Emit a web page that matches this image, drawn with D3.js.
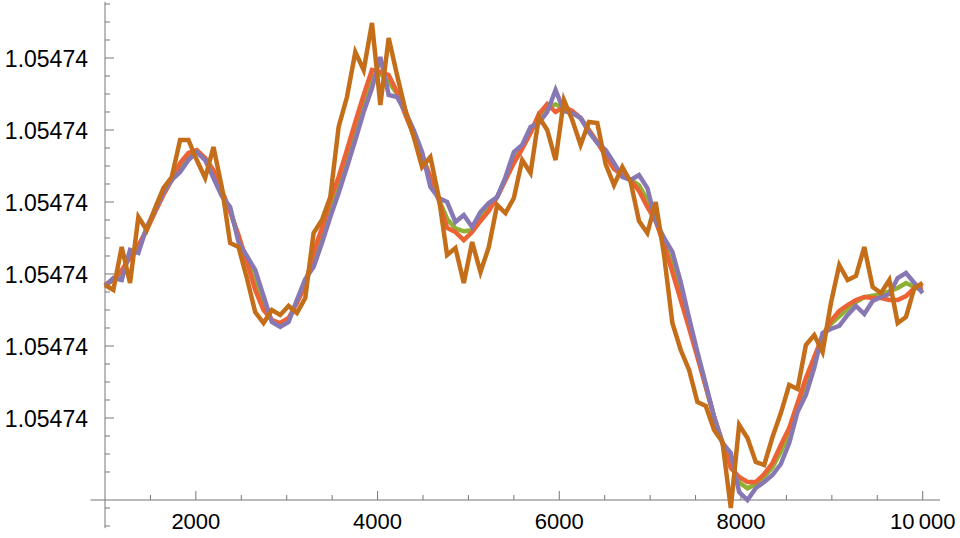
<!DOCTYPE html>
<html><head><meta charset="utf-8">
<script src="https://cdn.jsdelivr.net/npm/d3@7"></script>
<style>
html,body{margin:0;padding:0;background:#fff;}
svg text{font-family:"Liberation Sans",Arial,sans-serif;}
</style></head>
<body><svg id="chart" width="960" height="538"></svg>
<script>
// Sampling grid: 99 samples from 1000 to 10000
const xStart = 1000, xEnd = 10000, nSamples = 99;
const xValues = d3.range(nSamples).map(i => xStart + i * (xEnd - xStart) / (nSamples - 1));

// Series values: deviation from 1.05474, in units of one major y-tick step
const purpleSeries = [1.833,1.944,1.917,2.333,2.292,2.653,2.889,3.139,3.306,3.417,3.583,3.694,3.583,3.333,3.083,2.931,2.444,2.25,2.056,1.694,1.333,1.264,1.333,1.639,1.931,2.097,2.431,2.792,3.125,3.486,3.861,4.25,4.583,5.014,4.486,4.458,4.25,4.0,3.694,3.208,3.056,3.0,2.722,2.819,2.653,2.861,2.986,3.069,3.347,3.694,3.792,4.042,4.097,4.25,4.556,4.264,4.236,4.167,3.972,3.819,3.722,3.542,3.347,3.306,3.375,3.194,2.736,2.5,2.306,1.889,1.389,0.917,0.472,0.014,-0.347,-0.486,-1.028,-1.139,-0.972,-0.889,-0.792,-0.639,-0.347,0.083,0.319,0.694,1.181,1.236,1.278,1.431,1.556,1.444,1.625,1.681,1.722,1.944,2.014,1.875,1.736];
const redSeries = [1.847,1.917,2.056,2.222,2.403,2.611,2.861,3.097,3.306,3.542,3.681,3.722,3.611,3.444,3.167,2.861,2.542,2.167,1.778,1.5,1.361,1.319,1.389,1.597,1.847,2.306,2.639,3.028,3.347,3.722,4.111,4.486,4.833,4.806,4.764,4.528,4.208,3.931,3.653,3.347,3.028,2.639,2.583,2.472,2.583,2.736,2.875,3.069,3.306,3.542,3.736,3.958,4.222,4.361,4.25,4.319,4.264,4.167,4.0,3.833,3.639,3.458,3.375,3.306,3.153,2.931,2.736,2.403,2.028,1.639,1.25,0.847,0.431,0.014,-0.347,-0.694,-0.819,-0.889,-0.889,-0.778,-0.625,-0.375,-0.139,0.208,0.556,0.847,1.139,1.347,1.486,1.569,1.639,1.681,1.667,1.667,1.639,1.639,1.694,1.806,1.806];
const greenSeries = [1.842,1.926,2.007,2.261,2.364,2.626,2.871,3.112,3.306,3.498,3.647,3.712,3.601,3.405,3.138,2.886,2.508,2.196,1.875,1.568,1.351,1.300,1.369,1.612,1.876,2.233,2.566,2.945,3.269,3.639,4.024,4.403,4.746,4.78,4.667,4.504,4.223,3.955,3.667,3.298,3.038,2.765,2.632,2.593,2.607,2.780,2.914,3.069,3.320,3.595,3.756,3.987,4.178,4.322,4.357,4.300,4.254,4.167,3.990,3.828,3.668,3.487,3.365,3.306,3.231,3.023,2.736,2.437,2.125,1.727,1.299,0.872,0.445,0.014,-0.347,-0.621,-0.892,-0.977,-0.918,-0.817,-0.683,-0.467,-0.212,0.164,0.473,0.793,1.154,1.308,1.413,1.521,1.610,1.68,1.70,1.72,1.76,1.806,1.875,1.819,1.778];
const darkOrangeSeries = [1.847,1.778,2.375,1.875,2.792,2.611,2.917,3.194,3.347,3.861,3.861,3.583,3.333,3.764,3.208,2.431,2.375,1.944,1.472,1.319,1.5,1.431,1.556,1.458,1.667,2.569,2.75,3.069,4.042,4.458,5.083,4.833,5.486,4.347,5.278,4.764,4.278,3.903,3.486,3.625,3.069,2.264,2.361,1.875,2.444,2.028,2.375,2.958,2.847,3.056,3.583,3.403,4.181,4.0,3.583,4.417,4.139,3.792,4.111,4.097,3.528,3.236,3.486,3.278,2.736,2.569,3.0,2.264,1.319,0.944,0.667,0.222,0.167,-0.167,-0.333,-1.25,-0.097,-0.278,-0.611,-0.653,-0.264,0.069,0.458,0.403,1.014,1.153,0.917,1.597,2.125,1.917,1.972,2.375,1.819,1.736,1.917,1.319,1.403,1.806,1.875];

// Tick values and labels
const xMajorTicks = [2000, 4000, 6000, 8000, 10000];
const xMajorLabels = ["2000", "4000", "6000", "8000", "10\u2009000"];
const xMinorTicks = [1500, 2500, 3000, 3500, 4500, 5000, 5500, 6500, 7000, 7500, 8500, 9000, 9500];
const yMajorTicks = [0, 1, 2, 3, 4, 5];
const yMajorLabels = ["1.05474", "1.05474", "1.05474", "1.05474", "1.05474", "1.05474"];
const yMinorTicks = [-1.5, -1.25, -0.75, -0.5, -0.25, 0.25, 0.5, 0.75, 1.25, 1.5, 1.75, 2.25, 2.5, 2.75, 3.25, 3.5, 3.75, 4.25, 4.5, 4.75, 5.25, 5.5, 5.75];

const seriesList = [
  {name: "green", values: greenSeries, color: "#8FB032"},
  {name: "red", values: redSeries, color: "#EB6235"},
  {name: "purple", values: purpleSeries, color: "#8778B3"},
  {name: "darkorange", values: darkOrangeSeries, color: "#C56E1A"}
];

const svg = d3.select("#chart");
const x = d3.scaleLinear().domain([1000, 10000]).range([105, 922.7]);
const y = d3.scaleLinear().domain([-1.1389, 5.75]).range([500, 4]);

const axisColor = "#777";
const g = svg.append("g");

// x axis line
g.append("line").attr("x1", x(840)).attr("x2", x(10190)).attr("y1", y(-1.1389)).attr("y2", y(-1.1389))
  .attr("stroke", axisColor).attr("stroke-width", 1);
// y axis line
g.append("line").attr("x1", x(1000)).attr("x2", x(1000)).attr("y1", y(5.78)).attr("y2", y(-1.53))
  .attr("stroke", axisColor).attr("stroke-width", 1);

const x0 = y(-1.1389);
g.selectAll(".xmaj").data(xMajorTicks).enter().append("line")
  .attr("x1", d => x(d)).attr("x2", d => x(d)).attr("y1", x0).attr("y2", x0 - 9)
  .attr("stroke", axisColor);
g.selectAll(".xmin").data(xMinorTicks).enter().append("line")
  .attr("x1", d => x(d)).attr("x2", d => x(d)).attr("y1", x0).attr("y2", x0 - 5)
  .attr("stroke", axisColor);
g.selectAll(".xlab").data(xMajorTicks).enter().append("text")
  .attr("x", d => x(d)).attr("y", x0 + 29).attr("text-anchor", "middle")
  .attr("font-size", 22).attr("fill", "#000").text((d, i) => xMajorLabels[i]);

const yx = x(1000);
g.selectAll(".ymaj").data(yMajorTicks).enter().append("line")
  .attr("x1", yx).attr("x2", yx + 9).attr("y1", d => y(d)).attr("y2", d => y(d))
  .attr("stroke", axisColor);
g.selectAll(".ymin").data(yMinorTicks).enter().append("line")
  .attr("x1", yx).attr("x2", yx + 5).attr("y1", d => y(d)).attr("y2", d => y(d))
  .attr("stroke", axisColor);
g.selectAll(".ylab").data(yMajorTicks).enter().append("text")
  .attr("x", 88).attr("y", d => y(d) + 9).attr("text-anchor", "end")
  .attr("font-size", 23).attr("fill", "#000").text((d, i) => yMajorLabels[i]);

const line = d3.line().x((d, i) => x(xValues[i])).y(d => y(d));
svg.append("g").selectAll("path").data(seriesList).enter().append("path")
  .attr("d", d => line(d.values))
  .attr("fill", "none").attr("stroke", d => d.color).attr("stroke-width", 4.5)
  .attr("stroke-linejoin", "miter");
</script>
</body></html>
